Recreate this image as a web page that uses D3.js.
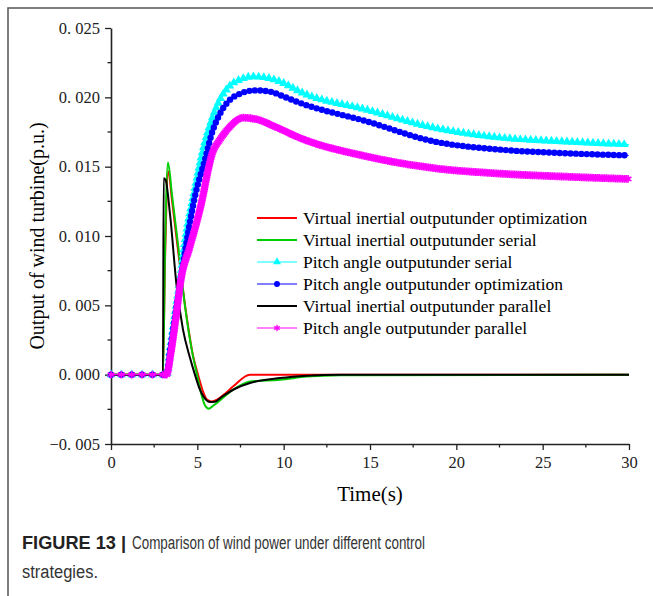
<!DOCTYPE html>
<html>
<head>
<meta charset="utf-8">
<script src="https://cdn.jsdelivr.net/npm/d3@7"></script>
<style>
	body { margin: 0; background: #fff; }
</style>
</head>
<body>
<div id="chart"></div>
<script>
/*
DATA (time in s, output in p.u.)
*/
const virtualOpt = [[0,0],[3.0,0],[3.13,0.0083],[3.32,0.01466],[3.53,0.0126],[3.88,0.009],[4.34,0.00454],[4.75,0.00137],[5.04,0],[5.33,-0.00123],[5.56,-0.0018],[5.83,-0.00193],[6.14,-0.0018],[6.6,-0.00137],[7.08,-0.00084],[8.05,0],[30,0]];
const virtualSerial = [[0,0],[3.01,0],[3.13,0.009],[3.3,0.0153],[3.53,0.013],[3.88,0.0094],[4.28,0.005],[4.69,0.0017],[4.98,0],[5.21,-0.0013],[5.44,-0.0022],[5.67,-0.00245],[5.96,-0.0022],[7.06,-0.0011],[8.05,-0.0005],[9.79,-0.00036],[11.35,-0.00014],[13.3,-0.00004],[30,0]];
const virtualParallel = [[0,0],[3.01,0],[3.05,0.01417],[3.16,0.01406],[3.42,0.01154],[3.8,0.0064],[4.17,0.00325],[4.57,0.00123],[4.86,0],[5.15,-0.00108],[5.44,-0.00173],[5.73,-0.00197],[6.02,-0.00195],[6.43,-0.00159],[7.28,-0.00096],[8.05,-0.0006],[9.79,-0.00024],[11.35,-0.00007],[13.26,0],[30,0]];
const pitchSerial = [[0,0],[3.22,0],[3.42,0.0018],[3.76,0.00483],[4.0,0.00685],[4.28,0.00959],[4.81,0.01312],[5.33,0.01623],[5.73,0.018],[6.31,0.01983],[6.89,0.02084],[7.47,0.02127],[8.22,0.02149],[9.21,0.02135],[10.02,0.021],[10.94,0.0204],[14.8,0.0191],[18.66,0.01781],[22.52,0.01709],[26.3,0.0168],[30,0.01659]];
const pitchOpt = [[0,0],[3.22,0],[3.42,0.00173],[3.76,0.00462],[4.0,0.00656],[4.38,0.00959],[4.86,0.01284],[5.44,0.0155],[5.85,0.01745],[6.31,0.01882],[6.89,0.01983],[7.47,0.02026],[8.34,0.0205],[9.21,0.02041],[10.02,0.02005],[10.94,0.0196],[14.8,0.01827],[18.66,0.01683],[22.52,0.01623],[26.3,0.01597],[30,0.01581]];
const pitchParallel = [[0,0],[3.22,0],[3.47,0.00159],[3.76,0.00411],[4.05,0.00685],[4.57,0.00923],[5.15,0.0119],[5.9,0.01608],[6.31,0.01695],[6.89,0.01788],[7.64,0.01853],[8.51,0.01839],[9.5,0.01788],[10.94,0.01707],[14.8,0.01574],[18.66,0.0149],[22.52,0.0145],[26.3,0.01428],[30,0.01411]];
// marker times on the flat part before the step
const flatTimes = [0, 0.6, 1.2, 1.8, 2.4, 3.0];

const xTicks = [0, 5, 10, 15, 20, 25, 30];
const yTicks = [-0.005, 0, 0.005, 0.01, 0.015, 0.02, 0.025];
const yTickLabels = ["\u22120. 005", "0. 000", "0. 005", "0. 010", "0. 015", "0. 020", "0. 025"];

const seriesNames = [
	"Virtual inertial outputunder optimization",
	"Virtual inertial outputunder serial",
	"Pitch angle outputunder serial",
	"Pitch angle outputunder optimization",
	"Virtual inertial outputunder parallel",
	"Pitch angle outputunder parallel"
];

/*
SET UP
*/
const w = 653;
const h = 596;
const m = { top: 28, right: 24, bottom: 152, left: 111 };
const serif = "Liberation Serif";

const svg = d3
	.select("#chart")
	.append("svg")
	.attr("width", w)
	.attr("height", h);

// page frame (left + top)
svg.append("path")
	.attr("d", "M8,596 V8 H653")
	.attr("fill", "none")
	.attr("stroke", "#555")
	.attr("stroke-width", 1.5);

const x = d3.scaleLinear().domain([0, 30]).range([m.left, w - m.right]);
const y = d3.scaleLinear().domain([-0.005, 0.025]).range([h - m.bottom, m.top]);

/*
AXES
*/
const xAxis = svg.append("g")
	.attr("transform", `translate(0,${y(-0.005)})`)
	.call(d3.axisBottom(x).tickValues(xTicks).tickSize(6).tickSizeOuter(0).tickPadding(6));
xAxis.append("g")
	.selectAll("line")
	.data(d3.range(2.5, 30, 5))
	.join("line")
	.attr("x1", (d) => x(d)).attr("x2", (d) => x(d))
	.attr("y1", 0).attr("y2", 3.5)
	.attr("stroke", "#222").attr("stroke-width", 1.3);

const yAxis = svg.append("g")
	.attr("transform", `translate(${x(0)},0)`)
	.call(d3.axisLeft(y).tickValues(yTicks).tickFormat((d, i) => yTickLabels[i]).tickSize(6).tickSizeOuter(0).tickPadding(5));
yAxis.append("g")
	.selectAll("line")
	.data(d3.range(-0.0025, 0.025, 0.005))
	.join("line")
	.attr("y1", (d) => y(d)).attr("y2", (d) => y(d))
	.attr("x1", 0).attr("x2", -3.5)
	.attr("stroke", "#222").attr("stroke-width", 1.3);

svg.selectAll(".domain").attr("stroke", "#222").attr("stroke-width", 1.6);
svg.selectAll(".tick line").attr("stroke", "#222").attr("stroke-width", 1.3);
svg.selectAll(".tick text")
	.style("font-family", serif)
	.style("font-size", "16.5px")
	.attr("fill", "#222");

svg.append("text")
	.attr("x", (x(0) + x(30)) / 2)
	.attr("y", 501)
	.attr("text-anchor", "middle")
	.style("font-family", serif)
	.style("font-size", "21px")
	.text("Time(s)");

svg.append("text")
	.attr("transform", `translate(44,${(y(-0.005) + y(0.025)) / 2}) rotate(-90)`)
	.attr("text-anchor", "middle")
	.style("font-family", serif)
	.style("font-size", "20px")
	.text("Output of wind turbine(p.u.)");

/*
LINES
*/
const line = d3.line()
	.x((d) => x(d[0]))
	.y((d) => y(d[1]))
	.curve(d3.curveMonotoneX);

function drawLine(data, color, width) {
	return svg.append("path")
		.datum(data)
		.attr("d", line)
		.attr("fill", "none")
		.attr("stroke", color)
		.attr("stroke-width", width)
		.attr("stroke-linejoin", "round");
}

// markers sampled along the drawn path, plus the flat-part markers
function drawMarkers(pathSel, symbol, size, color, step, stroke) {
	const node = pathSel.node();
	const len = node.getTotalLength();
	const pts = flatTimes.map((t) => [x(t), y(0)]);
	for (let l = 0; l <= len; l += step) {
		const p = node.getPointAtLength(l);
		if (p.x > x(3.1)) pts.push([p.x, p.y]);
	}
	svg.append("g")
		.selectAll("path")
		.data(pts)
		.join("path")
		.attr("transform", (d) => `translate(${d[0]},${d[1]})`)
		.attr("d", d3.symbol().type(symbol).size(size))
		.attr("fill", stroke ? "none" : color)
		.attr("stroke", stroke ? color : "none")
		.attr("stroke-width", 1.6);
}

drawLine(virtualOpt, "#ff0000", 2);
drawLine(virtualSerial, "#00cc00", 2);
const cyanPath = drawLine(pitchSerial, "#00ffff", 1.2);
drawMarkers(cyanPath, d3.symbolTriangle, 36, "#00ffff", 5.2, false);
const bluePath = drawLine(pitchOpt, "#5050ff", 1);
drawMarkers(bluePath, d3.symbolCircle, 32, "#0000ff", 5.4, false);
drawLine(virtualParallel, "#000000", 2);
const magPath = drawLine(pitchParallel, "#ff00ff", 1.2);
drawMarkers(magPath, d3.symbolAsterisk, 42, "#ff00ff", 1.8, true);

/*
LEGEND
*/
const legColors = ["#ff0000", "#00cc00", "#55ffff", "#5555ff", "#000000", "#ff55ff"];
const legSymbols = [null, null, d3.symbolTriangle, d3.symbolCircle, null, d3.symbolAsterisk];
const legMarkColors = [null, null, "#00ffff", "#0000ff", null, "#ff00ff"];

const legend = svg.append("g").attr("transform", "translate(257,218)");
seriesNames.forEach((name, i) => {
	const g = legend.append("g").attr("transform", `translate(0,${i * 22})`);
	g.append("line")
		.attr("x1", 0).attr("x2", 40)
		.attr("stroke", legColors[i])
		.attr("stroke-width", i < 2 || i === 4 ? 2 : 1.5);
	if (legSymbols[i]) {
		g.append("path")
			.attr("transform", "translate(20,0)")
			.attr("d", d3.symbol().type(legSymbols[i]).size(28))
			.attr("fill", i === 5 ? "none" : legMarkColors[i])
			.attr("stroke", i === 5 ? legMarkColors[i] : "none")
			.attr("stroke-width", 1.3);
	}
	g.append("text")
		.attr("x", 46)
		.attr("y", 5.5)
		.style("font-family", serif)
		.style("font-size", "17.5px")
		.text(name);
});

/*
CAPTION
*/
function caption(str, xPos, yPos, len, bold) {
	svg.append("text")
		.attr("x", xPos)
		.attr("y", yPos)
		.style("font-family", "Liberation Sans")
		.style("font-size", "18px")
		.style("font-weight", bold ? "bold" : "normal")
		.attr("fill", bold ? "#222" : "#333")
		.attr("textLength", len)
		.attr("lengthAdjust", "spacingAndGlyphs")
		.text(str);
}
caption("FIGURE 13 |", 22, 549, 104, true);
caption("Comparison of wind power under different control", 132, 549, 293, false);
caption("strategies.", 22, 578, 76, false);
</script>
</body>
</html>
